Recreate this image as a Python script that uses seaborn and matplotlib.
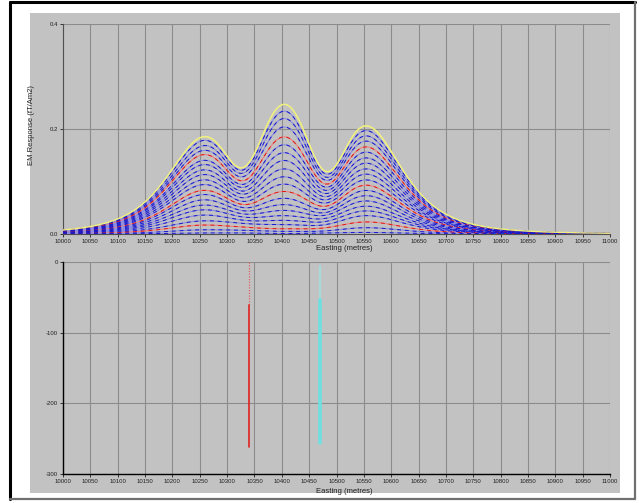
import numpy as np
import pandas as pd
import matplotlib
matplotlib.use("Agg")
import matplotlib.pyplot as plt
from matplotlib.patches import Rectangle
from matplotlib.lines import Line2D
import seaborn as sns

# profile stations (m)
EASTING = np.arange(10000, 11001, 5)

# conductor peaks and the two troughs between them
PEAK_EASTING = [10255, 10403, 10555]
TROUGH_EASTING = [10332, 10481]

# channel values (fT/Am2), channel 0 = earliest (yellow)
PEAK1 = [0.185, 0.178, 0.168, 0.159, 0.151, 0.140, 0.132, 0.122, 0.113, 0.103, 0.094,
         0.083, 0.075, 0.065, 0.055, 0.046, 0.036, 0.025, 0.017, 0.008, 0.002]
PEAK2 = [0.247, 0.234, 0.220, 0.204, 0.185, 0.170, 0.155, 0.140, 0.124, 0.109, 0.095,
         0.081, 0.068, 0.056, 0.045, 0.035, 0.026, 0.018, 0.010, 0.005, 0.001]
PEAK3 = [0.206, 0.197, 0.187, 0.177, 0.166, 0.156, 0.145, 0.135, 0.124, 0.114, 0.103,
         0.093, 0.083, 0.073, 0.063, 0.053, 0.044, 0.035, 0.023, 0.012, 0.003]
TROUGH_L = [0.128, 0.123, 0.117, 0.110, 0.102, 0.095, 0.089, 0.082, 0.076, 0.069, 0.062,
            0.056, 0.050, 0.044, 0.038, 0.032, 0.026, 0.020, 0.013, 0.007, 0.002]
TROUGH_R = [0.119, 0.114, 0.108, 0.102, 0.095, 0.089, 0.083, 0.077, 0.071, 0.065, 0.059,
            0.053, 0.047, 0.041, 0.036, 0.030, 0.024, 0.018, 0.012, 0.006, 0.002]
RED_CHANNELS = [4, 11, 18]

# lower panel: two drill holes (easting, collar, top of solid trace, bottom)
HOLE_EASTING = [10340, 10469]
HOLE_COLLAR = [0, -5]
HOLE_TOP = [-61, -54]
HOLE_BOTTOM = [-262, -256]

XTICKS = list(range(10000, 11001, 50))

PANEL = "#c2c2c2"
GRID = "#8c8c8c"


def peak_shape(d, w=125.0):
    return (1 + (np.asarray(d, float) / w) ** 2) ** -2


def notch_shape(d, s=33.0):
    return -np.exp(-0.5 * (np.asarray(d, float) / s) ** 2)


def basis(x):
    x = np.asarray(x, float)
    cols = [peak_shape(x - c) for c in PEAK_EASTING]
    cols += [notch_shape(x - c) for c in TROUGH_EASTING]
    return np.stack(cols, axis=-1)


def channel_profile(k):
    # weights chosen so the curve passes through the read peak / trough values
    pts = PEAK_EASTING + TROUGH_EASTING
    vals = [PEAK1[k], PEAK2[k], PEAK3[k], TROUGH_L[k], TROUGH_R[k]]
    wts = np.linalg.solve(basis(pts), vals)
    return basis(EASTING) @ wts


df = pd.concat([pd.DataFrame({"easting": EASTING, "response": channel_profile(k),
                              "channel": k}) for k in range(len(PEAK1))],
               ignore_index=True)

light, dark = {}, {}
for k in range(len(PEAK1)):
    if k == 0:
        light[k], dark[k] = "#f0f080", "#f0f080"
    elif k in RED_CHANNELS:
        light[k], dark[k] = "#f08080", "#e01818"
    else:
        light[k], dark[k] = "#8c8ce2", "#1818cc"

sns.set_style("white", {"axes.facecolor": PANEL})
plt.rcParams["font.family"] = ["Liberation Sans", "DejaVu Sans"]

W, H = 639, 503
fig = plt.figure(figsize=(W / 100, H / 100), dpi=100, facecolor="white")

# grey panel + outer frame
fig.patches.append(Rectangle((30 / W, 1 - 493 / H), 590 / W, 480 / H,
                             transform=fig.transFigure, facecolor=PANEL,
                             edgecolor="none", zorder=-10))
fig.add_artist(Line2D([9.5 / W, 9.5 / W], [1 - 499 / H, 1 - 2 / H], color="black", lw=2.2,
                      transform=fig.transFigure))
fig.add_artist(Line2D([9.5 / W, 635 / W], [1 - 2 / H, 1 - 2 / H], color="black", lw=2.2,
                      transform=fig.transFigure))
fig.add_artist(Line2D([635 / W, 635 / W], [1 - 499 / H, 1 - 2 / H], color="#707070", lw=1.6,
                      transform=fig.transFigure))
fig.add_artist(Line2D([9.5 / W, 635 / W], [1 - 498.5 / H, 1 - 498.5 / H], color="#707070",
                      lw=1.6, transform=fig.transFigure))

ax1 = fig.add_axes([63 / W, 1 - 234 / H, 547 / W, 210 / H])
ax2 = fig.add_axes([63 / W, 1 - 474 / H, 547 / W, 212 / H])

# upper: decay channels, light line with darker dashes on top
sns.lineplot(data=df, x="easting", y="response", hue="channel", palette=light,
             legend=False, lw=0.8, ax=ax1, zorder=3)
for k, g in df.groupby("channel"):
    if k == 0:
        continue
    ax1.plot(g["easting"], g["response"], color=dark[k], lw=0.7,
             dashes=(4, 4), zorder=4)
top = df[df["channel"] == 0]
ax1.plot(top["easting"], top["response"], color=light[0], lw=1.0, zorder=5)

ax1.set_ylim(0, 0.4)
ax1.set_yticks([0.0, 0.2, 0.4])
ax1.set_yticklabels(["0.0", "0.2", "0.4"])
ax1.set_ylabel("EM Response (fT/Am2)", fontsize=5.5, color="#202020")
ax1.yaxis.set_label_coords(-0.052, 0.52)

# lower: drill holes
for e, c, t, b in zip(HOLE_EASTING, HOLE_COLLAR, HOLE_TOP, HOLE_BOTTOM):
    if e < 10400:
        ax2.plot([e, e], [c, t], color="#e06060", lw=0.9, ls=(0, (1, 1.2)), zorder=4)
        ax2.plot([e, e], [t, b], color="#e02020", lw=1.2, zorder=4)
    else:
        ax2.plot([e, e], [c, t], color="#a8dada", lw=1.6, zorder=4)
        ax2.plot([e, e], [t, b], color="#6ee0e0", lw=2.6, zorder=4)
ax2.set_ylim(-300, 0)
ax2.set_yticks([-300, -200, -100, 0])
ax2.set_yticklabels(["-300", "-200", "-100", "0"])
ax2.set_ylabel("")

for ax, ly in ((ax1, -0.05), (ax2, -0.066)):
    ax.set_xlim(10000, 11000)
    ax.set_xticks(XTICKS)
    ax.set_xticklabels([str(t) for t in XTICKS])
    ax.set_facecolor(PANEL)
    ax.grid(True, color=GRID, lw=0.8)
    ax.set_axisbelow(True)
    ax.tick_params(labelsize=4.3, length=2, width=0.6, pad=1.5, colors="#202020",
                   bottom=True, left=True)
    ax.set_xlabel("Easting (metres)", fontsize=5.5, color="#202020")
    ax.xaxis.set_label_coords(0.515, ly)
    for s in ("top", "right"):
        ax.spines[s].set_visible(False)

ax1.spines["left"].set_color("#505050")
ax1.spines["bottom"].set_color("#505050")
ax1.spines["left"].set_linewidth(0.8)
ax1.spines["bottom"].set_linewidth(0.8)
ax2.spines["left"].set_color("black")
ax2.spines["bottom"].set_color("black")
ax2.spines["left"].set_linewidth(1.0)
ax2.spines["bottom"].set_linewidth(1.0)

fig.savefig("out.png", dpi=100, facecolor="white")
